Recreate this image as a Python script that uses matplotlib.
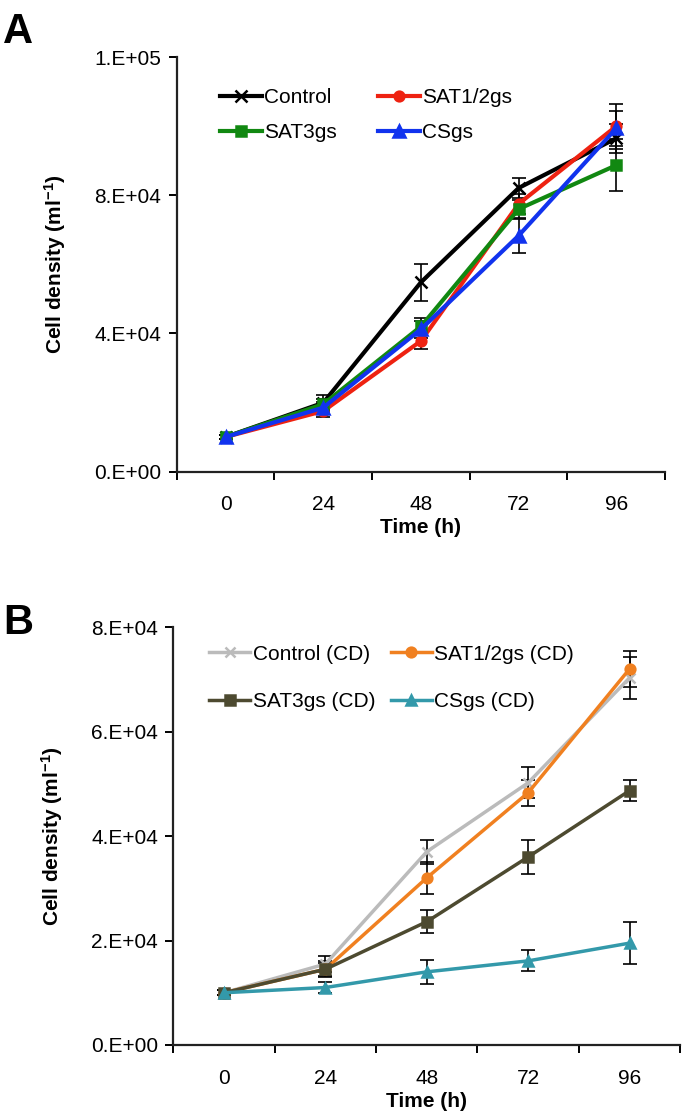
import numpy as np
import matplotlib
matplotlib.use('Agg')
from matplotlib import pyplot as plt

plt.rcParams['font.family'] = ['Liberation Sans', 'DejaVu Sans']
plt.rcParams['mathtext.fontset'] = 'custom'
plt.rcParams['mathtext.rm'] = 'Liberation Sans'
plt.rcParams['mathtext.bf'] = 'Liberation Sans:bold'

# data
times = ['0', '24', '48', '72', '96']

# panel A
a_names = ['Control', 'SAT1/2gs', 'SAT3gs', 'CSgs']
a_control = [10000, 19900, 54800, 82100, 96500]
a_control_err = [600, 2300, 5300, 2800, 4200]
a_sat12 = [10000, 17500, 37800, 77500, 100000]
a_sat12_err = [500, 1800, 2200, 3000, 6500]
a_sat3 = [10000, 19500, 42000, 76000, 88700]
a_sat3_err = [500, 1500, 2500, 2500, 7600]
a_cs = [10000, 18500, 41200, 68300, 99400]
a_cs_err = [500, 1500, 2500, 4900, 5000]

# panel B
b_names = ['Control (CD)', 'SAT1/2gs (CD)', 'SAT3gs (CD)', 'CSgs (CD)']
b_control = [10000, 15500, 37000, 50200, 70300]
b_control_err = [500, 1500, 2300, 3000, 4000]
b_sat12 = [10000, 14500, 32000, 48300, 72000]
b_sat12_err = [500, 1200, 3000, 2500, 3500]
b_sat3 = [10000, 14500, 23600, 36000, 48700]
b_sat3_err = [500, 1500, 2200, 3200, 2000]
b_cs = [10000, 11000, 14000, 16100, 19500]
b_cs_err = [500, 1000, 2300, 2000, 4000]

x = np.arange(len(times))
fig = plt.figure(figsize=(6.85, 11.2), dpi=100)
FS = 15


def style_axes(ax, ymax, ystep, labels):
    ax.set_xlim(-0.5, len(times) - 0.5)
    ax.set_ylim(0, ymax)
    ax.spines['top'].set_visible(False)
    ax.spines['right'].set_visible(False)
    for s in ['left', 'bottom']:
        ax.spines[s].set_linewidth(1.6)
        ax.spines[s].set_color('#222222')
    ax.set_xticks(x)
    ax.set_xticklabels(times, fontsize=FS)
    ax.tick_params(axis='x', which='major', length=0, pad=17)
    ax.set_xticks(np.arange(-0.5, len(times)), minor=True)
    ax.tick_params(axis='x', which='minor', length=6, width=1.4, direction='out')
    ax.set_yticks(np.arange(0, ymax + 1, ystep))
    ax.set_yticklabels(labels, fontsize=FS)
    ax.tick_params(axis='y', length=6, width=1.4, direction='out', pad=5)
    ax.set_xlabel('Time (h)', fontsize=FS, fontweight='bold', labelpad=3)
    ax.set_ylabel(r'Cell density (ml$\mathbf{^{-1}}$)', fontsize=FS,
                  fontweight='bold', labelpad=19)


def series(ax, y, err, color, marker, lw, ms, label):
    ax.errorbar(x, y, yerr=err, fmt='none', ecolor='black', elinewidth=1.2,
                capsize=5, capthick=1.2, zorder=2)
    ax.plot(x, y, color=color, marker=marker, lw=lw, ms=ms, label=label,
            mfc=color, mec=color, mew=1.8, zorder=3)


# Panel A
axA = fig.add_axes([0.258, 0.579, 0.713, 0.370])
series(axA, a_control, a_control_err, 'black', 'x', 3, 8, a_names[0])
series(axA, a_sat12, a_sat12_err, '#ee2211', 'o', 3, 7, a_names[1])
series(axA, a_sat3, a_sat3_err, '#118811', 's', 3, 7, a_names[2])
series(axA, a_cs, a_cs_err, '#1133ee', '^', 3, 8, a_names[3])
style_axes(axA, 120000, 40000, ['0.E+00', '4.E+04', '8.E+04', '1.E+05'])
h, l = axA.get_legend_handles_labels()
axA.legend([h[0], h[2], h[1], h[3]], [l[0], l[2], l[1], l[3]], ncol=2,
           frameon=False, fontsize=FS, loc='upper left',
           bbox_to_anchor=(0.05, 0.97), handlelength=2.0, handletextpad=0.1,
           columnspacing=2.0, labelspacing=0.75)
fig.text(0.005, 0.962, 'A', fontsize=30, fontweight='bold')

# Panel B
axB = fig.add_axes([0.253, 0.067, 0.740, 0.373])
series(axB, b_control, b_control_err, '#bbbbbb', 'x', 2.5, 7, b_names[0])
series(axB, b_sat12, b_sat12_err, '#f08020', 'o', 2.5, 7, b_names[1])
series(axB, b_sat3, b_sat3_err, '#4d4a30', 's', 2.5, 7, b_names[2])
series(axB, b_cs, b_cs_err, '#3399aa', '^', 2.5, 7.5, b_names[3])
style_axes(axB, 80000, 20000, ['0.E+00', '2.E+04', '4.E+04', '6.E+04', '8.E+04'])
h, l = axB.get_legend_handles_labels()
axB.legend([h[0], h[2], h[1], h[3]], [l[0], l[2], l[1], l[3]], ncol=2,
           frameon=False, fontsize=FS, loc='upper left',
           bbox_to_anchor=(0.033, 1.003), handlelength=2.0, handletextpad=0.1,
           columnspacing=0.75, labelspacing=1.35)
fig.text(0.005, 0.434, 'B', fontsize=30, fontweight='bold')

fig.savefig('out.png', dpi=100)
